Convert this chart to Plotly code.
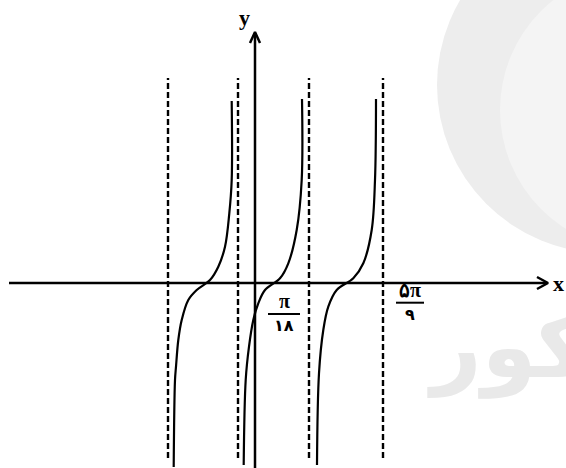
import plotly.graph_objects as go

# ---- data (drawing units, origin at the axes intersection) ----
asymptote_x = [-87, -17, 54, 128]
asymptote_top = 205
asymptote_bottom = -175

curve1_x = [-81.3, -80, -79, -76.7, -73.3, -66.7, -58.3, -45, -36.7, -30, -25.7, -23.3, -23.3]
curve1_y = [-184, -97, -83.7, -57, -37, -17, -7, 3, 16.3, 36.3, 69.7, 103, 182]
curve2_x = [-11.3, -9.3, -6, -1.7, 3.3, 10, 25, 33.3, 41.7, 46.7, 47]
curve2_y = [-182, -97, -63.7, -37, -20.3, -7, 4.7, 19.7, 53, 103, 184]
curve3_x = [62, 64, 68.3, 73.3, 81.7, 98.3, 108.3, 116.7, 120, 121]
curve3_y = [-182, -90.3, -47, -23.7, -7, 4.7, 19.7, 53, 103, 184]

x_tick_labels = [("π", "۱۸"), ("۵π", "۹")]
x_tick_pos = [29, 155]
axis_names = ["x", "y"]
watermark_text = "کنکور"

fig = go.Figure()

# watermark logo (very light)
fig.add_shape(type="circle", x0=605 - 255 - 168, x1=605 - 255 + 168, y0=283 - 85 - 168, y1=283 - 85 + 168,
              fillcolor="#ededed", line=dict(width=0), layer="below")
fig.add_shape(type="circle", x0=640 - 255 - 140, x1=640 - 255 + 140, y0=283 - 110 - 140, y1=283 - 110 + 140,
              fillcolor="#f4f4f4", line=dict(width=0), layer="below")
fig.add_annotation(x=170, y=-64, text="<b>" + watermark_text + "</b>", showarrow=False, xanchor="left",
                   yanchor="middle", font=dict(family="DejaVu Sans", size=88, color="#e9e9e9"))

# asymptotes (dashed)
ax, ay = [], []
for a in asymptote_x:
    ax += [a, a, None]
    ay += [asymptote_bottom, asymptote_top, None]
fig.add_trace(go.Scatter(x=ax, y=ay, mode="lines", line=dict(color="black", width=2.4, dash="6px,3px"),
                         hoverinfo="skip"))

# axes with arrows
fig.add_trace(go.Scatter(x=[-246, 292, None, 282, 293, 282], y=[0, 0, None, 6, 0, -6], mode="lines",
                         line=dict(color="black", width=2.5), hoverinfo="skip"))
fig.add_trace(go.Scatter(x=[0, 0, None, -5, 0, 5], y=[-185, 250, None, 240, 251, 240], mode="lines",
                         line=dict(color="black", width=2.5), hoverinfo="skip"))

# curves
for cx, cy in [(curve1_x, curve1_y), (curve2_x, curve2_y), (curve3_x, curve3_y)]:
    fig.add_trace(go.Scatter(x=cx, y=cy, mode="lines",
                             line=dict(color="black", width=2.2, shape="spline", smoothing=1.0),
                             hoverinfo="skip"))

# axis names
fig.add_annotation(x=303, y=0, text="<b>" + axis_names[0] + "</b>", showarrow=False,
                   font=dict(family="Liberation Serif", size=22, color="black"))
fig.add_annotation(x=-11, y=266, text="<b>" + axis_names[1] + "</b>", showarrow=False,
                   font=dict(family="Liberation Serif", size=22, color="black"))

# fraction tick labels
bar_y = [-31, -19.7]
bar_half = [16, 14]
for (num, den), xp, by, hw in zip(x_tick_labels, x_tick_pos, bar_y, bar_half):
    fig.add_annotation(x=xp, y=by + 1, text="<b>" + num + "</b>", showarrow=False, yanchor="bottom",
                       borderpad=0, font=dict(family="Liberation Serif", size=20, color="black"))
    fig.add_annotation(x=xp, y=by - 1, text="<b>" + den + "</b>", showarrow=False, yanchor="top",
                       borderpad=0, font=dict(family="DejaVu Sans", size=16, color="black"))
    fig.add_shape(type="line", x0=xp - hw, x1=xp + hw, y0=by, y1=by, line=dict(color="black", width=2))

fig.update_layout(
    width=566, height=468, margin=dict(l=0, r=0, t=0, b=0),
    paper_bgcolor="white", plot_bgcolor="white", showlegend=False,
    xaxis=dict(range=[-255, 311], visible=False, fixedrange=True),
    yaxis=dict(range=[-185, 283], visible=False, fixedrange=True),
)
fig.write_html("out.html", config={"displayModeBar": False},
               post_script="document.body.style.margin='0';document.body.style.overflow='hidden';")
